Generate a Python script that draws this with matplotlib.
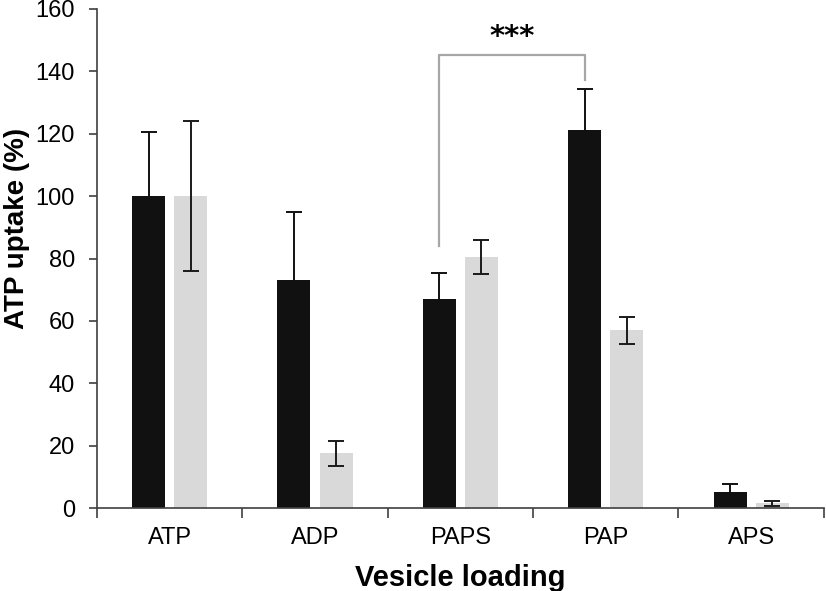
import matplotlib.pyplot as plt
import numpy as np

plt.rcParams['font.family'] = ['Liberation Sans', 'DejaVu Sans']

categories = ['ATP', 'ADP', 'PAPS', 'PAP', 'APS']
black_vals = [100, 73, 67, 121.2, 5.2]
black_err = [20.5, 21.8, 8.3, 13.0, 2.5]
gray_vals = [100, 17.5, 80.4, 57, 1.5]
gray_err = [24, 3.9, 5.5, 4.4, 0.8]

x = np.arange(len(categories))
w = 0.227
off = 0.145

fig = plt.figure(figsize=(8.26, 5.91), dpi=100)
ax = fig.add_axes([0.1174, 0.1404, 0.88, 0.8444])

ax.bar(x - off, black_vals, w, color='#111111', zorder=2)
ax.bar(x + off, gray_vals, w, color='#d9d9d9', zorder=2)
ax.errorbar(x - off, black_vals, yerr=black_err, fmt='none',
            ecolor='#111111', elinewidth=1.4, capsize=5.5, capthick=1.4, zorder=1.5)
ax.errorbar(x + off, gray_vals, yerr=gray_err, fmt='none',
            ecolor='#1a1a1a', elinewidth=1.4, capsize=5.5, capthick=1.4, zorder=3)

# significance bracket PAPS vs PAP
xa, xb = x[2] - off, x[3] - off
ax.plot([xa, xa, xb, xb], [84, 145.4, 145.4, 137.2], color='#a6a6a6', lw=1.6,
        clip_on=False, zorder=1)
ax.text((xa + xb) / 2, 151, '***', ha='center', va='center', fontsize=21,
        fontweight='bold', family='DejaVu Sans')

ax.set_xlim(-0.5, 4.5)
ax.set_ylim(0, 160)
ax.set_yticks(np.arange(0, 161, 20))
ax.set_xticks(np.arange(-0.5, 4.6, 1))
ax.set_xticklabels([])
ax.set_xticks(x, minor=True)
ax.set_xticklabels(categories, minor=True)
ax.tick_params(axis='x', which='minor', length=0, pad=14, labelsize=17)
ax.tick_params(axis='x', which='major', length=7, width=1.2, color='#404040')
ax.tick_params(axis='y', length=6, width=1.2, color='#404040', labelsize=17, pad=10)

for s in ['top', 'right']:
    ax.spines[s].set_visible(False)
for s in ['left', 'bottom']:
    ax.spines[s].set_color('#404040')
    ax.spines[s].set_linewidth(1.2)

ax.set_ylabel('ATP uptake (%)', fontsize=20, fontweight='bold')
ax.set_xlabel('Vesicle loading', fontsize=21, fontweight='bold')
ax.yaxis.set_label_coords(-0.092, 0.56)
ax.xaxis.set_label_coords(0.5, -0.113)

fig.savefig('out.png', dpi=100)
